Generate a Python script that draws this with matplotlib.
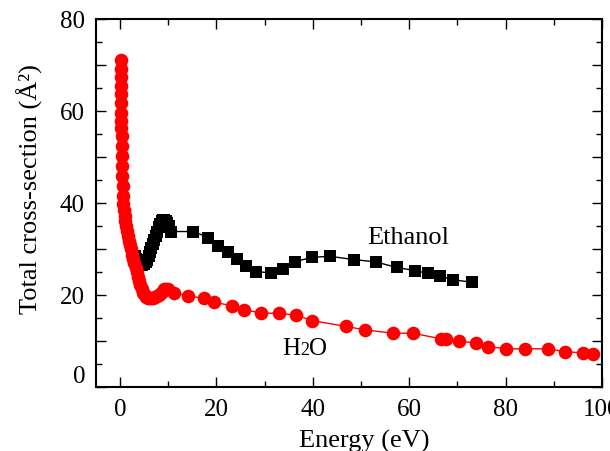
import matplotlib
matplotlib.use("Agg")
import matplotlib.pyplot as plt
from matplotlib.ticker import MultipleLocator, FuncFormatter

plt.rcParams["font.family"] = ["Liberation Serif", "DejaVu Serif"]

# Total electron-scattering cross sections (Å^2) vs impact energy (eV)
energy_h2o = [0.10, 0.12, 0.14, 0.16, 0.18, 0.20, 0.22, 0.24, 0.27, 0.30,
              0.33, 0.36, 0.40, 0.45, 0.50, 0.56, 0.65, 0.80, 0.95, 1.10,
              1.25, 1.40, 1.60, 1.80, 2.00, 2.20, 2.45, 2.70, 2.95, 3.20,
              3.45, 3.70, 3.95, 4.20, 4.50, 4.80, 5.10, 5.40, 5.70, 6.00,
              6.40, 6.80, 7.20, 7.60, 8.00, 8.40, 8.80, 9.20, 9.60, 10.0,
              11.2, 14.0, 17.4, 19.4, 23.2, 25.7, 29.3, 33.0, 36.6, 39.9,
              46.8, 50.8, 56.6, 60.7, 66.5, 67.6, 70.4, 73.9, 76.3, 80.0,
              84.0, 88.7, 92.3, 96.1, 98.2]
tcs_h2o = [71.0, 69.1, 67.3, 65.4, 63.6, 61.7, 59.6, 57.8, 56.4, 54.6,
           52.4, 50.2, 48.0, 45.9, 43.7, 41.5, 39.8, 38.5, 37.2, 36.0,
           35.0, 34.0, 32.9, 31.8, 30.8, 29.9, 28.8, 27.8, 26.9, 25.9,
           24.9, 23.9, 23.0, 22.1, 21.2, 20.5, 20.0, 19.6, 19.4, 19.3,
           19.3, 19.4, 19.5, 19.7, 20.0, 20.4, 20.9, 21.3, 21.4, 21.2,
           20.5, 19.8, 19.3, 18.4, 17.7, 16.8, 16.1, 16.0, 15.6, 14.4,
           13.2, 12.4, 11.7, 11.7, 10.5, 10.4, 9.9, 9.6, 8.8, 8.3,
           8.3, 8.3, 7.7, 7.4, 7.2]

energy_ethanol = [3.0, 3.4, 3.8, 4.2, 4.6, 5.0, 5.3, 5.6, 5.9, 6.2,
                  6.5, 6.8, 7.1, 7.4, 7.7, 8.0, 8.3, 8.6, 8.9, 9.2,
                  9.5, 9.8, 10.1, 10.5, 15.2, 18.3, 20.3, 22.3,
                  24.2, 26.1, 28.1, 31.4, 33.9, 36.2, 39.8, 43.6, 48.5, 53.0,
                  57.4, 61.2, 63.8, 66.4, 69.0, 73.0]
tcs_ethanol = [28.5, 27.9, 27.3, 26.8, 26.6, 26.7, 27.1, 27.7, 28.4, 29.3,
               30.2, 31.1, 32.0, 32.9, 33.8, 34.7, 35.5, 36.0, 36.3, 36.3,
               36.0, 35.6, 35.0, 33.8, 33.8, 32.5, 30.7, 29.3,
               27.8, 26.2, 25.1, 24.8, 25.6, 27.2, 28.2, 28.4, 27.7, 27.2,
               26.0, 25.3, 24.7, 24.1, 23.3, 22.8]

x_ticks = [0, 20, 40, 60, 80, 100]
y_ticks = [0, 20, 40, 60, 80]

fig = plt.figure(figsize=(6.10, 4.52), dpi=100)
ax = fig.add_axes([96 / 610, 1 - 388 / 452, 506 / 610, 368 / 452])

ax.plot(energy_ethanol, tcs_ethanol, color="black", lw=1.0, marker="s",
        ms=8.5, mew=0, zorder=2)
ax.plot(energy_h2o, tcs_h2o, color="red", lw=1.0, marker="o",
        ms=9.8, mew=0, zorder=3)

ax.set_xlim(-5, 100)
ax.set_ylim(0, 80)

ax.xaxis.set_major_locator(MultipleLocator(20))
ax.xaxis.set_minor_locator(MultipleLocator(10))
ax.yaxis.set_major_locator(MultipleLocator(10))
ax.yaxis.set_minor_locator(MultipleLocator(5))


def y_label(v, pos):
    iv = int(round(v))
    if iv % 20 == 0 and iv in y_ticks and iv != 0:
        return str(iv)
    return ""


ax.yaxis.set_major_formatter(FuncFormatter(y_label))
ax.xaxis.set_major_formatter(FuncFormatter(lambda v, p: str(int(round(v)))))

ax.tick_params(which="both", direction="in", top=True, right=True,
               labelsize=18, pad=8, width=1.0)
ax.tick_params(which="major", length=7)
ax.tick_params(which="minor", length=4)
for s in ax.spines.values():
    s.set_linewidth(1.5)

# zero label on the y axis sits slightly above its tick
ax.annotate("0", xy=(0, 0), xycoords=("axes fraction", "data"),
            xytext=(-11, 11), textcoords="offset pixels",
            ha="right", va="center", fontsize=18)

ax.text(59.8, 32.6, "Ethanol", fontsize=19, ha="center", va="center")
ax.annotate("H", xy=(33.7, 7.2), xytext=(0, 0), textcoords="offset pixels",
            fontsize=18, ha="left", va="baseline")
ax.annotate("2", xy=(33.7, 7.2), xytext=(18, 0), textcoords="offset pixels",
            fontsize=13, ha="left", va="baseline")
ax.annotate("O", xy=(33.7, 7.2), xytext=(27, 0), textcoords="offset pixels",
            fontsize=18, ha="left", va="baseline")

fig.text(364 / 610, 4 / 452, "Energy (eV)", fontsize=19,
         ha="center", va="baseline")
fig.text(30 / 610, 1 - 189 / 452, "Total cross-section (Å²)", fontsize=19,
         ha="center", va="center", rotation=90)

fig.savefig("out.png", dpi=100)
